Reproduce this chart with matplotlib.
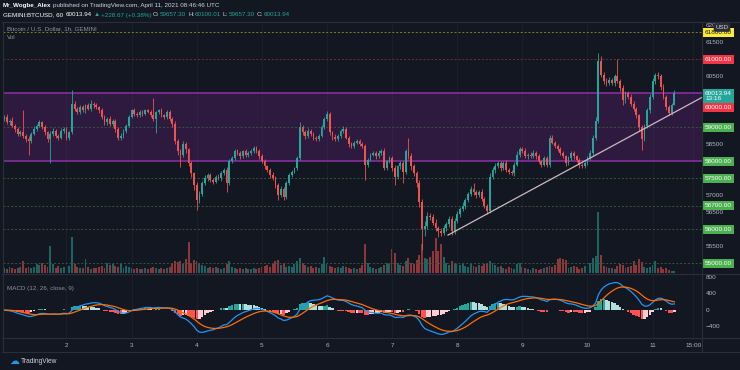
import matplotlib
matplotlib.use("Agg")
import matplotlib.pyplot as plt
import matplotlib.transforms as mtrans
import numpy as np

W, H = 740, 370
BG = "#131722"; TXT = "#b2b5be"; SEP = "#2a2e39"; GRID = "#1b1f2b"
UP = "#26a69a"; DN = "#ef5350"
plt.rcParams["font.family"] = ["Liberation Sans", "DejaVu Sans"]

# ---- data: hourly BTCUSD (GEMINI), hour 0 = 2 Apr 2021 00:00 UTC ----
HOURS = np.arange(-23, 225)
FIRST_OPEN = 59250
CLOSE = [
    # Apr 1
    59300, 59150, 59200, 59050, 58950, 58800, 58850, 58750, 58650, 58600, 58800, 58950,
    59050, 59150, 59000, 58850, 58650, 58800, 58900, 58750, 58700, 58900, 58950,
    # Apr 2
    58700, 58850, 59700, 59550, 59450, 59600, 59500, 59650, 59550, 59700, 59650, 59600,
    59500, 59300, 59150, 59250, 59100, 59200, 58950, 58700, 58750, 58900, 59050, 59300,
    # Apr 3
    59500, 59400, 59350, 59450, 59400, 59500, 59450, 59350, 59250, 59450, 59500, 59350,
    59300, 59450, 59250, 59100, 58600, 58300, 58200, 58500, 58350, 57950, 57650, 57300,
    # Apr 4
    56850, 57050, 57350, 57500, 57600, 57450, 57400, 57550, 57500, 57650, 57750, 57350,
    58000, 58100, 58300, 58250, 58150, 58300, 58200, 58250, 58300, 58400, 58300, 58150,
    # Apr 5
    58000, 57850, 57750, 57600, 57500, 57300, 57000, 57200, 56950, 57350, 57600, 57700,
    57800, 58100, 59000, 58850, 58750, 58900, 58800, 58700, 58650, 58750, 59000, 59250,
    # Apr 6
    59400, 58850, 58720, 58650, 58750, 58900, 58950, 58700, 58500, 58450, 58550, 58600,
    58500, 58450, 57900, 58050, 58200, 58250, 58150, 58250, 58300, 57800, 58000, 58100,
    # Apr 7
    57800, 57550, 57850, 57950, 57700, 58300, 58150, 57850, 57650, 57350, 56800, 56000,
    56100, 56400, 56350, 56200, 56050, 55950, 55900, 56050, 56150, 56300, 55950, 56250,
    # Apr 8
    56450, 56600, 56700, 56850, 57050, 57200, 57100, 57000, 57100, 56900, 56700, 56550,
    57550, 57750, 57850, 57950, 57800, 57950, 57750, 57700, 57650, 57900, 58200, 58350,
    # Apr 9
    58300, 58150, 58200, 58150, 58250, 58150, 58000, 57900, 58100, 57900, 58700, 58550,
    58450, 58350, 58250, 58150, 57950, 58100, 58250, 58150, 58050, 57900, 57850, 57950,
    # Apr 10
    58100, 58250, 58700, 59200, 60950, 60550, 60350, 60300, 60400, 60300, 60500, 60350,
    60150, 59800, 60000, 59900, 59700, 59550, 59350, 59000, 58650, 59050, 59500, 59900,
    # Apr 11
    60350, 60550, 60500, 60200, 59900, 59600, 59420, 59657.30, 60013.94]
WICK_UP = [
    60, 80, 50, 90, 40, 70, 60, 650, 50, 80, 60, 90, 50, 70, 40, 60, 50, 80, 70, 60, 40, 90, 50,
    60, 50, 400, 80, 60, 50, 70, 40, 60, 90, 50, 60, 40, 70, 50, 60, 80, 50, 40, 60, 70, 50, 60, 50,
    50, 60, 40, 50, 70, 40, 50, 60, 510, 40, 50, 60, 40, 50, 60, 40, 80, 60, 50, 90, 60, 40, 70, 50,
    100, 80, 60, 90, 70, 50, 60, 50, 70, 60, 50, 80, 60, 50, 70, 60, 50, 40, 60, 50, 70, 40, 60, 50,
    60, 70, 50, 60, 80, 70, 60, 80, 50, 60, 70, 50, 40, 60, 150, 80, 60, 70, 50, 60, 40, 50, 60, 50,
    80, 60, 50, 70, 60, 50, 80, 60, 50, 70, 60, 50, 60, 70, 60, 50, 40, 60, 50, 70, 60, 80, 50, 60,
    60, 80, 50, 70, 60, 50, 400, 80, 60, 70, 90, 100, 150, 120, 80, 100, 90, 60, 80, 70, 60, 90, 80, 70,
    80, 60, 90, 70, 60, 80, 150, 70, 60, 80, 50, 40, 120, 80, 90, 60, 70, 60, 80, 60, 50, 70, 90, 60,
    60, 80, 50, 60, 70, 50, 60, 40, 60, 50, 80, 60, 50, 70, 60, 50, 40, 60, 50, 60, 50, 40, 60, 50,
    60, 70, 80, 100, 240, 150, 80, 100, 90, 60, 70, 500, 80, 90, 70, 60, 80, 70, 60, 50, 80, 60, 70, 80,
    90, 60, 80, 60, 70, 50, 60, 50, 86.07]
WICK_DN = [
    50, 60, 80, 40, 90, 60, 50, 70, 80, 410, 60, 40, 70, 50, 60, 80, 90, 700, 60, 50, 70, 40, 80,
    80, 60, 40, 70, 50, 60, 40, 80, 50, 60, 70, 50, 90, 60, 80, 70, 50, 60, 90, 80, 60, 50, 70, 40,
    40, 60, 50, 40, 60, 50, 40, 60, 50, 420, 60, 40, 70, 50, 60, 80, 100, 120, 370, 80, 100, 90, 120, 150,
    280, 90, 70, 60, 80, 70, 60, 50, 60, 70, 50, 250, 60, 50, 70, 60, 80, 50, 60, 70, 50, 60, 50, 70,
    60, 70, 50, 80, 60, 90, 130, 60, 80, 60, 50, 60, 40, 50, 60, 70, 80, 60, 70, 80, 60, 50, 40, 60,
    60, 70, 90, 60, 50, 70, 60, 50, 80, 60, 70, 50, 60, 70, 450, 60, 50, 40, 70, 60, 50, 60, 70, 50,
    80, 250, 60, 70, 340, 60, 80, 100, 90, 120, 150, 600, 200, 100, 90, 80, 110, 170, 90, 80, 100, 70, 120, 90,
    60, 80, 70, 90, 60, 70, 80, 90, 60, 70, 80, 100, 60, 70, 90, 60, 80, 70, 60, 80, 60, 70, 50, 60,
    70, 60, 80, 50, 60, 70, 60, 80, 50, 60, 70, 50, 60, 50, 70, 60, 90, 50, 60, 70, 80, 110, 60, 50,
    60, 50, 70, 80, 60, 60, 70, 80, 60, 50, 90, 60, 70, 150, 80, 60, 70, 80, 90, 120, 320, 60, 70, 80,
    60, 70, 80, 90, 70, 80, 60, 60, 0]
VOLUME = [
    5, 4, 6, 5, 4, 5, 6, 12, 5, 6, 5, 6, 9, 8, 10, 8, 6, 27, 9, 5, 7, 5, 6,
    6, 7, 36, 9, 6, 5, 5, 14, 6, 4, 5, 5, 6, 7, 5, 10, 8, 9, 7, 6, 9, 5, 7, 6,
    5, 4, 5, 4, 4, 5, 4, 5, 6, 5, 4, 5, 4, 5, 6, 10, 12, 11, 12, 9, 14, 31, 10, 13,
    12, 10, 8, 7, 5, 6, 5, 6, 5, 4, 5, 9, 12, 6, 5, 4, 5, 4, 5, 4, 4, 5, 4, 5,
    6, 7, 8, 6, 9, 12, 13, 8, 10, 6, 7, 6, 9, 12, 15, 10, 8, 6, 7, 5, 6, 5, 9, 16,
    9, 7, 6, 5, 6, 5, 7, 6, 5, 4, 5, 4, 5, 8, 29, 10, 6, 5, 4, 5, 6, 8, 10, 9,
    24, 20, 10, 8, 7, 12, 15, 10, 9, 13, 18, 29, 15, 14, 16, 22, 35, 22, 29, 16, 10, 8, 12, 10,
    9, 8, 10, 7, 6, 9, 7, 6, 8, 7, 9, 10, 12, 10, 8, 6, 7, 5, 4, 6, 5, 4, 9, 10,
    6, 5, 4, 3, 5, 4, 3, 4, 5, 6, 7, 6, 8, 14, 15, 14, 13, 5, 6, 7, 6, 4, 5, 7,
    6, 10, 15, 17, 61, 18, 7, 6, 5, 5, 4, 7, 9, 8, 5, 6, 7, 12, 8, 14, 11, 6, 5, 6,
    8, 12, 5, 6, 4, 5, 3, 2, 2]

DAY_H = [0, 24, 48, 72, 96, 120, 144, 168, 192, 216, 231]
DAY_LABELS = ["2", "3", "4", "5", "6", "7", "8", "9", "10", "11", "15:00"]
ZONE = (58000, 60000)
GREEN_LEVELS = [59000, 57500, 56700, 56000, 55000]
RED_LEVEL = 61000
YELLOW_LEVEL = 61800
TREND_H = [140.6, 234.2]
TREND_P = [55830, 59880]
GRAY_TICKS = [62000, 61500, 60500, 58500, 57000, 56500, 55500]
MACD_TICKS = [800, 400, 0, -400]

c = np.array(CLOSE, float)
o = np.r_[FIRST_OPEN, c[:-1]]
hi = np.maximum(o, c) + np.array(WICK_UP)
lo = np.minimum(o, c) - np.array(WICK_DN)
isup = c >= o
cols = np.where(isup, UP, DN)

def ema(x, n):
    a = 2 / (n + 1); out = [x[0]]
    for v in x[1:]:
        out.append(out[-1] + a * (v - out[-1]))
    return np.array(out)
macd = ema(c, 12) - ema(c, 26)
sig = ema(macd, 9)
hist = macd - sig
prev = np.r_[hist[0], hist[:-1]]
hcol = np.where(hist >= 0, np.where(hist >= prev, "#26a69a", "#b2dfdb"),
                np.where(hist <= prev, "#ff5252", "#ffcdd2"))

def px(x0, y0, x1, y1):
    return [x0 / W, 1 - y1 / H, (x1 - x0) / W, (y1 - y0) / H]

fig = plt.figure(figsize=(W / 100, H / 100), dpi=100, facecolor=BG)
XL = (-23.4, 234.2)

# volume (behind)
axv = fig.add_axes(px(3, 22, 702, 272.5), facecolor=BG)
axv.bar(HOURS, VOLUME, width=0.72, color=np.where(isup, UP, DN), alpha=0.55, lw=0)
axv.set_xlim(*XL); axv.set_ylim(0, max(VOLUME) * 4.11); axv.axis("off")

ax = fig.add_axes(px(3, 22, 702, 273), facecolor="none")
ax.set_xlim(*XL); ax.set_ylim(54715, 62097)
for h in DAY_H:
    ax.axvline(h, color=GRID, lw=0.8, zorder=0)
ax.axhspan(*ZONE, color="#9c27b0", alpha=0.2, lw=0, zorder=1)
for p in ZONE:
    ax.axhline(p, color="#7e2b98", lw=1.3, zorder=1)
for p in GREEN_LEVELS:
    ax.axhline(p, color="#2f5a3a", lw=0.7, ls=(0, (2, 2)), zorder=1)
ax.axhline(RED_LEVEL, color="#6a3038", lw=0.7, ls=(0, (2, 2)), zorder=1)
ax.axhline(YELLOW_LEVEL, color="#8a7d2a", lw=0.7, ls=(0, (2, 2)), zorder=1)
ax.vlines(HOURS, lo, hi, colors=cols, lw=0.6, zorder=3)
ax.bar(HOURS, np.maximum(np.abs(c - o), 12), bottom=np.minimum(o, c), width=0.66,
       color=cols, lw=0, zorder=4)
ax.plot(TREND_H, TREND_P, color="#cdb9be", lw=0.9, zorder=5)
ax.axis("off")
ax.text(0.006, 0.972, "Bitcoin / U.S. Dollar, 1h, GEMINI", transform=ax.transAxes,
        color="#8f929b", fontsize=4.5, va="center")
ax.text(0.006, 0.94, "Vol", transform=ax.transAxes, color="#8f929b", fontsize=4.5, va="center")

# MACD pane
am = fig.add_axes(px(3, 274, 702, 338), facecolor=BG)
am.set_xlim(*XL); am.set_ylim(-679, 873)
for h in DAY_H:
    am.axvline(h, color=GRID, lw=0.8, zorder=0)
am.bar(HOURS, hist, width=0.9, color=hcol, lw=0, zorder=2)
am.plot(HOURS, macd, color="#2196f3", lw=0.9, zorder=3)
am.plot(HOURS, sig, color="#ff6d00", lw=0.9, zorder=3)
am.axis("off")
am.text(0.006, 0.78, "MACD (12, 26, close, 9)", transform=am.transAxes, color="#8f929b",
        fontsize=4.5, va="center")

# frame / separators
def hline(y, x0=2, x1=740):
    fig.add_artist(plt.Line2D([x0 / W, x1 / W], [1 - y / H, 1 - y / H], color=SEP, lw=0.8))
def vline(x, y0, y1):
    fig.add_artist(plt.Line2D([x / W, x / W], [1 - y0 / H, 1 - y1 / H], color=SEP, lw=0.8))
for y in (22, 273.5, 338, 352):
    hline(y)
vline(702, 22, 352); vline(2.5, 22, 352)

# right price axis
tp = mtrans.blended_transform_factory(fig.transFigure, ax.transData)
for p in GRAY_TICKS:
    ax.text(706 / W, p, f"{p}", transform=tp, color=TXT, fontsize=4.6, va="center",
            clip_on=False, zorder=1)
def tag(p, s, fc, tc="white"):
    ax.text(705 / W, p, s, transform=tp, color=tc, fontsize=4.6, va="center", clip_on=False,
            bbox=dict(boxstyle="square,pad=0.3", fc=fc, ec="none"))
for p in GREEN_LEVELS + [58000]:
    tag(p, f"{p}.00", "#4caf50")
tag(RED_LEVEL, f"{RED_LEVEL}.00", "#f23645")
tag(YELLOW_LEVEL, f"{YELLOW_LEVEL}.00", "#ffeb3b", "#131722")
tag(59590, "60000.00", "#f23645")
ax.text(705 / W, 59930, f"{CLOSE[-1]:.2f}\n13:16", transform=tp, color="white", fontsize=4.6,
        va="center", linespacing=1.0, clip_on=False,
        bbox=dict(boxstyle="square,pad=0.3", fc=UP, ec="none"))
fig.text(722 / W, 1 - 27.5 / H, "USD", color="#d1d4dc", fontsize=4.4, ha="center", va="center",
         zorder=5, bbox=dict(boxstyle="round,pad=0.3", fc="#2a2e39", ec="none"))

tm = mtrans.blended_transform_factory(fig.transFigure, am.transData)
for v in MACD_TICKS:
    am.text(706 / W, v, f"{v}".replace("-", "\u2212"), transform=tm, color=TXT, fontsize=4.6,
            va="center", clip_on=False)

# time axis
tt = mtrans.blended_transform_factory(am.transData, fig.transFigure)
for h, lab in zip(DAY_H, DAY_LABELS):
    am.text(h, 1 - 345.5 / H, lab, transform=tt, color=TXT, fontsize=4.6, ha="center",
            va="center", clip_on=False)

# header
r = fig.canvas.get_renderer()
def seq(x, y, parts, size=4.5):
    for s, col, wt, gap in parts:
        t = fig.text(x / W, 1 - y / H, s, color=col, fontsize=size, fontweight=wt, va="center")
        x += t.get_window_extent(r).width + gap
seq(3, 6, [("Mr_Wogbe_Alex", "#ffffff", "bold", 1.5),
           ("published on TradingView.com, April 11, 2021 08:46:46 UTC", "#d1d4dc", "normal", 0)])
seq(3, 15, [("GEMINI:BTCUSD, 60", "#ffffff", "normal", 3),
            ("60013.94", "#ffffff", "normal", 1.2), ("\u25b2", UP, "normal", 1.0),
            ("+228.67 (+0.38%)", UP, "normal", 2),
            ("O:", "#d1d4dc", "normal", 0.3), ("59657.30", UP, "normal", 2),
            ("H:", "#d1d4dc", "normal", 0.3), ("60100.01", UP, "normal", 2),
            ("L:", "#d1d4dc", "normal", 0.3), ("59657.30", UP, "normal", 2),
            ("C:", "#d1d4dc", "normal", 0.3), ("60013.94", UP, "normal", 0)])

# footer logo
fig.text(14 / W, 1 - 361 / H, "\u2601", color="#2196f3", fontsize=7, ha="center", va="center",
         family=["DejaVu Sans"])
fig.text(21 / W, 1 - 361.5 / H, "TradingView", color="#d1d4dc", fontsize=4.8, va="center")

fig.savefig("out.png", dpi=100, facecolor=BG)
